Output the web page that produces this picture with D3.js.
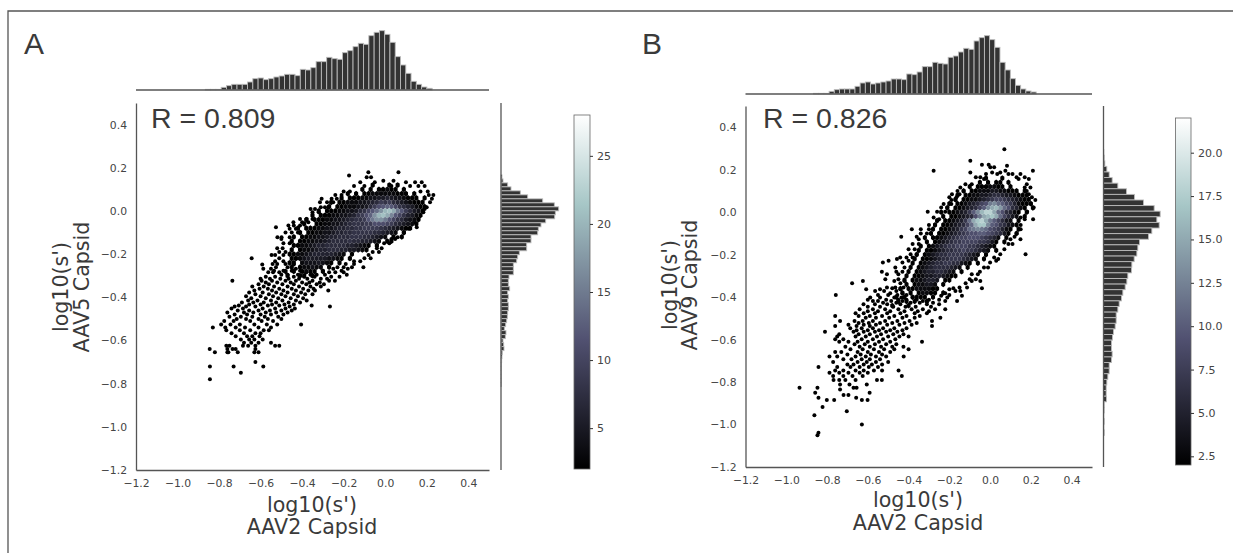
<!DOCTYPE html>
<html>
<head>
<meta charset="utf-8">
<script src="https://cdn.jsdelivr.net/npm/d3@7"></script>
<style>
  html, body { margin: 0; background: #fff; }
  svg { display: block; }
</style>
</head>
<body>
<div id="chart"></div>
<script>
// Marginal histogram heights (first bin on the left / top)
const topHistA = [2,2,2,8,13,17,17,17,24,34,36,31,34,39,42,47,47,43,62,60,67,85,85,98,94,92,112,118,130,140,137,163,173,178,167,143,100,75,50,26,17,9,5];
const topHistB = [2,2,2,8,13,15,15,15,23,33,36,30,33,36,39,45,45,43,60,58,66,82,82,95,92,90,110,114,126,137,134,159,169,175,163,140,95,72,46,26,15,9,6];
const rightHistA = [3,6,20,30,58,80,125,160,173,163,161,134,120,112,110,90,90,77,77,55,50,47,37,37,37,24,22,22,26,20,22,20,22,22,20,19,17,14,10,15,13,6,8,9,4,3,2,1,1,1,1,1,1];
const rightHistB = [1,2,4,10,17,26,43,69,93,120,152,170,160,167,145,135,108,103,100,92,85,84,73,70,65,58,54,47,43,38,38,35,30,27,24,24,26,24,17,17,13,10,8,8,9,2,2,1,2,1,2];

// Hexbin counts, one string per row. Each char is a count in base 36, "." is an empty cell
const hexRowYA = [0.12,0.10,0.08,0.06,0.04,0.02,0,-0.02,-0.04,-0.06,-0.08,-0.10,-0.12,-0.14,-0.16,-0.18,-0.20,-0.22,-0.24,-0.26,-0.28,-0.30];
const hexRowsA = [
  ".......................2...2.2",
  "....................2.2.22322.2",
  ".................2.2.22333333222.2",
  "...............2.22233445565443222.2",
  ".............2.223334456798976543222",
  "............2.2233344579bcdca8765322",
  "..........2.2223344578acehkljfc97542",
  "........2.22233445689bdhkljgca86532",
  ".......2.2223344567889cfhhfca875432",
  "......2..22334456788899bbba9765432",
  ".....2.22233445667788999987654322",
  ".....2.2233445667788888776543.2",
  "....2.223344566777888776543.2.2",
  "...2.22334456777787766543.22",
  "....2233456677777665432.2",
  "...2.23345667776655432",
  "...22334566666543.2",
  "...2234555554432.2",
  "...22.34445432.2",
  "...2.233433.2",
  "..2.2.2322.2",
  "..2..22.2"
];
const hexRowYB = [0.16,0.14,0.12,0.10,0.08,0.06,0.04,0.02,0,-0.02,-0.04,-0.06,-0.08,-0.10,-0.12,-0.14,-0.16,-0.18,-0.20,-0.22,-0.24,-0.26,-0.28,-0.30,-0.32,-0.34,-0.36,-0.38,-0.40,-0.42,-0.44];
const hexRowsB = [
  ".........................2...2",
  ".......................2.2.22.2",
  ".....................2.2223322.2",
  "...................2.223334433222.2",
  "..................2.2233445665443222",
  ".................2.22334567887654322",
  "................2.22345689cdba8753222",
  "...............2.2234568adfgeb96532.2",
  "..............2.223457adgiifb96532.2",
  "..............2.2234569cfghfb8643.2",
  ".............2.223457bfhifca8643.2",
  "............2.2234568bfhhda976432",
  "............2.2234578bcdcb987532.2",
  "...........2.2234567899aa987642.2",
  "..........2.22345678899987653.2",
  "..........2.2345677888877642.2",
  ".........2.23456778887765432",
  "........2.2234566778776543.2",
  "........2.23456677776543.2",
  ".......2.22345667776543.2",
  ".......2.2345667766432.2",
  "......2.23456666543.2",
  "......2.2345566543.2",
  ".....2.22344554322",
  ".....2.2334554.22",
  ".....2.233443.2",
  "....2.22333322",
  "....2.2.23322.2",
  "...2.2.2222.2",
  "...2.2.2..2",
  "..2...2"
];
const hexStartX = -0.52;
const hexStepX = 0.02;

// Single scatter dots outside the hex blob, grouped by row: [y, [x, x, ...]]
const dotRowsA = [
  [0.179,[-0.081,0.064]],[0.164,[-0.174]],[0.156,[-0.089,-0.068]],[0.14,[-0.009,0.04]],[0.133,[0.144,0.176,-0.05,0.1,-0.12]],
  [0.115,[-0.1,0.12,0.16,0.19,-0.15,0.03]],[0.09,[-0.2,0.17,0.205,-0.17]],[0.074,[0.232,0.21,-0.24,-0.21]],[0.056,[-0.233,-0.258,-0.306,0.225]],
  [0.04,[-0.314,0.216,-0.28,-0.25]],[0.017,[-0.274,0.2,-0.31,-0.29]],[0.009,[-0.338,-0.359,0.19]],[-0.006,[0.184,-0.35,-0.32]],
  [-0.037,[-0.41,-0.378,0.16,-0.35]],[-0.052,[-0.442,-0.4,0.14,-0.37]],[-0.068,[-0.466,-0.44,-0.41]],[-0.076,[-0.526,0.152]],[-0.083,[0.112,-0.46,-0.43]],
  [-0.1,[-0.48,-0.45,0.09,-0.42]],[-0.122,[-0.519,-0.499,0.06,-0.46]],[-0.13,[0.048,-0.5,0.03]],[-0.15,[-0.49,0.02,-0.46,-0.005]],[-0.173,[-0.494,-0.017,-0.52,-0.04]],
  [-0.19,[-0.51,-0.48,-0.06,-0.03]],[-0.204,[-0.547,-0.53,-0.08,-0.49]],[-0.219,[-0.643,-0.51,-0.1,-0.07]],[-0.233,[-0.53,-0.49,-0.12,-0.15]],
  [-0.246,[-0.542,-0.15,-0.52,-0.48,-0.19]],[-0.248,[-0.592,-0.44]],[-0.261,[-0.526,-0.105,-0.2,-0.47,-0.16,-0.23]],
  [-0.268,[-0.587,-0.55,-0.25,-0.43,-0.18]],[-0.277,[-0.535,-0.49,-0.45,-0.41,-0.3,-0.21]],[-0.284,[-0.563,-0.54,-0.51,-0.27,-0.24,-0.2,-0.38]],
  [-0.296,[-0.185,-0.5,-0.47,-0.42,-0.36,-0.33,-0.29]],
  [-0.305,[-0.575,-0.53,-0.44,-0.39,-0.34,-0.26,-0.22]],
  [-0.314,[-0.6,-0.555,-0.505,-0.465,-0.415,-0.375,-0.31,-0.28]],
  [-0.323,[-0.736,-0.595,-0.242,-0.545,-0.48,-0.43,-0.35,-0.27]],
  [-0.332,[-0.575,-0.52,-0.455,-0.4,-0.365,-0.315]],
  [-0.34,[-0.61,-0.56,-0.495,-0.44,-0.38,-0.33,-0.295]],
  [-0.35,[-0.64,-0.585,-0.535,-0.47,-0.415,-0.36,-0.31]],
  [-0.36,[-0.605,-0.565,-0.51,-0.45,-0.395,-0.345]],
  [-0.369,[-0.274,-0.338,-0.63,-0.545,-0.49,-0.43,-0.37]],
  [-0.378,[-0.655,-0.59,-0.525,-0.47,-0.405]],
  [-0.386,[-0.625,-0.56,-0.5,-0.44,-0.385,-0.35]],
  [-0.395,[-0.67,-0.6,-0.54,-0.48,-0.42]],
  [-0.404,[-0.645,-0.575,-0.515,-0.455,-0.395]],
  [-0.415,[-0.378,-0.66,-0.615,-0.55,-0.495,-0.43]],
  [-0.424,[-0.69,-0.635,-0.585,-0.525,-0.465,-0.41]],
  [-0.433,[-0.655,-0.6,-0.545,-0.485,-0.44]],
  [-0.438,[-0.354,-0.705,-0.565,-0.51]],
  [-0.443,[-0.266,-0.725,-0.67,-0.625,-0.46]],
  [-0.452,[-0.74,-0.685,-0.59,-0.53,-0.48,-0.435]],
  [-0.461,[-0.71,-0.655,-0.61,-0.555,-0.5,-0.45]],
  [-0.47,[-0.76,-0.68,-0.635,-0.575,-0.525,-0.47]],
  [-0.48,[-0.725,-0.665,-0.6,-0.55,-0.49]],
  [-0.49,[-0.75,-0.695,-0.64,-0.58,-0.515]],
  [-0.5,[-0.715,-0.67,-0.61,-0.565,-0.5]],
  [-0.51,[-0.775,-0.73,-0.65,-0.595,-0.54]],
  [-0.526,[-0.405,-0.79,-0.745,-0.7,-0.63,-0.57,-0.52]],
  [-0.54,[-0.83,-0.77,-0.72,-0.675,-0.61,-0.55]],
  [-0.553,[-0.765,-0.7,-0.65,-0.585,-0.56]],
  [-0.566,[-0.74,-0.68,-0.625,-0.6]],
  [-0.58,[-0.72,-0.665,-0.64,-0.605]],
  [-0.595,[-0.695,-0.655,-0.63,-0.59]],
  [-0.61,[-0.68,-0.645,-0.61,-0.55]],
  [-0.625,[-0.765,-0.75,-0.685,-0.66,-0.625,-0.53,-0.51]],
  [-0.64,[-0.845,-0.76,-0.735,-0.72,-0.625]],
  [-0.655,[-0.82,-0.76,-0.755,-0.71,-0.63,-0.61]],
  [-0.7,[-0.625]],[-0.72,[-0.844,-0.73,-0.587]],[-0.75,[-0.695]],[-0.78,[-0.844]]
];
const dotRowsB = [
  [0.296,[0.07]],[0.242,[-0.097]],[0.223,[-0.04,-0.007]],[0.219,[0.083]],[0.211,[0.001,0.02]],[0.195,[-0.277,0.21,0.075]],[0.187,[-0.097,0.05,0.01]],
  [0.18,[0.149,0.11,-0.02,0.035,0.09]],[0.164,[-0.048,0.17,-0.07,0.13]],[0.156,[0.19,0.14,-0.03]],[0.132,[-0.121,0.18,-0.09]],[0.116,[-0.146,0.198,0.17]],
  [0.1,[-0.16,-0.13,0.18]],[0.085,[-0.187,0.19,-0.15]],[0.07,[-0.2,-0.165,0.205]],[0.057,[0.222,-0.19,-0.17]],[0.038,[-0.228,0.2,-0.19]],[0.022,[0.214,-0.24,-0.21]],[0.002,[-0.306,-0.26,0.182,-0.22]],[-0.033,[0.211,0.17,-0.25]],
  [-0.025,[-0.277,0.15]],[-0.06,[-0.3,0.15,-0.27]],[-0.08,[-0.384,-0.34,0.15,-0.3]],[-0.1,[-0.34,0.13,-0.31]],[-0.116,[-0.436,-0.36,0.12]],[-0.127,[0.149,-0.35,0.1]],
  [-0.15,[-0.38,0.09,0.11,-0.35]],[-0.174,[-0.4,0.07,-0.37]],[-0.198,[0.174,-0.39,0.05,-0.36]],[-0.214,[-0.441,-0.41,0.02,-0.38]],[-0.22,[-0.457,0.04]],[-0.229,[-0.498,0.03,-0.4]],
  [-0.237,[-0.526,0.0,-0.43]],[-0.26,[-0.465,-0.03,-0.42,-0.01]],[-0.28,[-0.531,-0.46,-0.05,-0.43]],[-0.292,[-0.506,-0.06,-0.45,-0.09]],[-0.316,[-0.514,-0.45,-0.07,-0.1]],
  [-0.324,[-0.624,-0.048,-0.47,-0.09,-0.42]],[-0.335,[-0.677,-0.12,-0.44]],[-0.355,[-0.506,-0.113,-0.465,-0.15,-0.425]],[-0.358,[-0.04,-0.48,-0.18]],
  [-0.363,[-0.608,-0.54,-0.44,-0.2]],[-0.371,[-0.564,-0.146,-0.52,-0.46,-0.17]],[-0.382,[-0.49,-0.43,-0.22]],[-0.39,[-0.757,-0.55,-0.5,-0.2,-0.455,-0.41]],[-0.394,[-0.138,-0.24]],[-0.402,[-0.588,-0.54,-0.21,-0.47,-0.435,-0.38]],
  [-0.412,[-0.6,-0.51,-0.45,-0.41,-0.36,-0.25,-0.3]],
  [-0.418,[-0.162,-0.575,-0.55,-0.485,-0.43,-0.22,-0.33]],[-0.426,[-0.525,-0.46,-0.39,-0.345,-0.28]],[-0.434,[-0.621,-0.565,-0.505,-0.44,-0.25,-0.31]],
  [-0.445,[-0.6,-0.54,-0.475,-0.415,-0.365,-0.29]],[-0.457,[-0.22,-0.64,-0.575,-0.515,-0.45,-0.385,-0.33,-0.27]],
  [-0.466,[-0.6,-0.55,-0.49,-0.42,-0.355,-0.3]],
  [-0.476,[-0.66,-0.62,-0.565,-0.505,-0.44,-0.37,-0.31]],
  [-0.489,[-0.76,-0.645,-0.59,-0.53,-0.47,-0.41,-0.345]],
  [-0.497,[-0.244,-0.61,-0.56,-0.495,-0.43,-0.37]],
  [-0.512,[-0.736,-0.665,-0.625,-0.575,-0.515,-0.455,-0.395,-0.285]],
  [-0.522,[-0.645,-0.595,-0.54,-0.48,-0.42,-0.36]],
  [-0.53,[-0.695,-0.62,-0.56,-0.505,-0.445,-0.385]],
  [-0.536,[-0.76,-0.285,-0.655,-0.59]],
  [-0.547,[-0.686,-0.63,-0.575,-0.525,-0.47,-0.41]],
  [-0.556,[-0.655,-0.6,-0.545,-0.49,-0.43]],
  [-0.563,[-0.81,-0.67,-0.62,-0.565,-0.51,-0.455]],
  [-0.575,[-0.74,-0.645,-0.59,-0.535,-0.475,-0.425]],
  [-0.586,[-0.75,-0.66,-0.61,-0.555,-0.5,-0.445,-0.4]],
  [-0.598,[-0.76,-0.72,-0.63,-0.575,-0.525,-0.465]],
  [-0.61,[-0.334,-0.74,-0.695,-0.65,-0.6,-0.545,-0.49]],
  [-0.622,[-0.665,-0.615,-0.565,-0.51,-0.46]],
  [-0.634,[-0.71,-0.64,-0.59,-0.535,-0.48,-0.425]],
  [-0.646,[-0.4,-0.685,-0.625,-0.57,-0.52,-0.47]],
  [-0.658,[-0.76,-0.73,-0.65,-0.6,-0.545,-0.49]],
  [-0.67,[-0.7,-0.635,-0.585,-0.53]],
  [-0.68,[-0.788,-0.75,-0.66,-0.61,-0.56,-0.51,-0.424]],
  [-0.693,[-0.72,-0.68,-0.63,-0.59,-0.54]],
  [-0.705,[-0.77,-0.65,-0.605,-0.56,-0.5]],
  [-0.717,[-0.7,-0.67,-0.62,-0.58,-0.53]],
  [-0.729,[-0.842,-0.75,-0.685,-0.64,-0.595,-0.55]],
  [-0.745,[-0.449,-0.76,-0.72,-0.66,-0.62,-0.57,-0.53]],
  [-0.756,[-0.788,-0.74,-0.695,-0.64,-0.6]],
  [-0.772,[-0.433,-0.77,-0.72,-0.675,-0.625]],
  [-0.79,[-0.768,-0.74,-0.71,-0.66,-0.555,-0.531]],
  [-0.811,[-0.736,-0.69,-0.605]],[-0.827,[-0.847,-0.935,-0.67,-0.655]],[-0.835,[-0.736]],[-0.85,[-0.858,-0.591]],
  [-0.861,[-0.719,-0.695]],[-0.874,[-0.842,-0.657]],[-0.885,[-0.801,-0.765,-0.629,-0.601]],[-0.918,[-0.822]],[-0.937,[-0.703]],
  [-0.956,[-0.862]],[-1.0,[-0.629]],[-1.039,[-0.842]],[-1.05,[-0.847]]
];

const axisTicks = [-1.2,-1.0,-0.8,-0.6,-0.4,-0.2,0.0,0.2,0.4];
const cbarTicksA = [5,10,15,20,25];
const cbarTicksB = [2.5,5,7.5,10,12.5,15,17.5,20];
// matplotlib "bone" colormap stops
const boneStops = [0,0.365,0.746,1];
const boneColors = ["#000000","#515171","#a6c6c6","#ffffff"];

const width = 1233;
const height = 553;
const spineColor = "#555";
const textColor = "#3a3a3a";
const labelFont = "'DejaVu Sans', sans-serif";
const titleFont = "'Liberation Sans', Arial, sans-serif";
const histBinX = 0.0254;
const histStartX = -0.866;

const svg = d3.select("#chart").append("svg")
    .attr("width", width)
    .attr("height", height);

// Frame around the figure
svg.append("path")
    .attr("d", `M8,${height}V11H${width}`)
    .attr("fill", "none")
    .attr("stroke", spineColor)
    .attr("stroke-width", 1.3);

const bone = d3.scaleLinear().domain(boneStops).range(boneColors);

function drawPanel(p) {
    const g = svg.append("g");

    const x = d3.scaleLinear().domain([-1.2, 0.5]).range([p.left, p.right]);
    const y = d3.scaleLinear().domain([-1.2, 0.5]).range([p.bottom, p.top]);
    const color = d3.scaleLinear().domain(p.cbarDomain).range([0, 1]);

    // Scatter dots sit under the hexes
    const dots = p.dotRows.flatMap(([dy, xs]) => xs.map(dx => [dx, dy]));
    g.append("g").selectAll("circle")
        .data(dots)
        .join("circle")
        .attr("cx", d => x(d[0]))
        .attr("cy", d => y(d[1]))
        .attr("r", 2)
        .attr("fill", "#000");

    // Hexbin cells, odd rows are shifted half a cell
    const cells = [];
    p.hexRows.forEach((row, r) => {
        row.split("").forEach((c, i) => {
            if (c !== ".") {
                cells.push({
                    cx: hexStartX + hexStepX * (i + (r % 2 ? 0.5 : 0)),
                    cy: p.hexRowY[r],
                    count: parseInt(c, 36)
                });
            }
        });
    });
    const halfW = (x(hexStepX) - x(0)) / 2;
    const halfH = (y(0) - y(0.02)) * 2 / 3;
    const hexPath = d3.line();
    g.append("g").selectAll("path")
        .data(cells)
        .join("path")
        .attr("d", d => {
            const px = x(d.cx), py = y(d.cy);
            return hexPath([[px, py - halfH], [px + halfW, py - halfH / 2], [px + halfW, py + halfH / 2],
                [px, py + halfH], [px - halfW, py + halfH / 2], [px - halfW, py - halfH / 2]]) + "Z";
        })
        .attr("fill", d => bone(color(d.count)));

    // Top marginal histogram
    const hTop = d3.scaleLinear().domain([0, 180]).range([p.topBase, p.topBase - 60]);
    g.append("g").selectAll("rect")
        .data(p.topHist)
        .join("rect")
        .attr("x", (d, i) => x(histStartX + histBinX * i))
        .attr("width", x(histBinX) - x(0))
        .attr("y", d => hTop(d))
        .attr("height", d => p.topBase - hTop(d))
        .attr("fill", "#333")
        .attr("stroke", "#bbb")
        .attr("stroke-width", 0.9);
    g.append("line")
        .attr("x1", p.left).attr("x2", p.right)
        .attr("y1", p.topBase).attr("y2", p.topBase)
        .attr("stroke", spineColor).attr("stroke-width", 1.3);

    // Right marginal histogram
    const hRight = d3.scaleLinear().domain([0, 180]).range([p.rightBase, p.rightBase + 60]);
    g.append("g").selectAll("rect")
        .data(p.rightHist)
        .join("rect")
        .attr("x", p.rightBase)
        .attr("width", d => hRight(d) - p.rightBase)
        .attr("y", (d, i) => y(p.rightStart - p.rightBin * i))
        .attr("height", y(0) - y(p.rightBin))
        .attr("fill", "#333")
        .attr("stroke", "#bbb")
        .attr("stroke-width", 0.9);
    g.append("line")
        .attr("x1", p.rightBase).attr("x2", p.rightBase)
        .attr("y1", p.top).attr("y2", p.bottom)
        .attr("stroke", spineColor).attr("stroke-width", 1.3);

    // Main axes: spines on left and bottom only, no tick marks
    const xAxis = g.append("g")
        .attr("transform", `translate(0,${p.bottom})`)
        .call(d3.axisBottom(x).tickValues(axisTicks).tickFormat(d3.format(".1f")).tickSize(0).tickPadding(9));
    const yAxis = g.append("g")
        .attr("transform", `translate(${p.left},0)`)
        .call(d3.axisLeft(y).tickValues(axisTicks).tickFormat(d3.format(".1f")).tickSize(0).tickPadding(9));
    [xAxis, yAxis].forEach(axis => {
        axis.select(".domain").attr("stroke", spineColor).attr("stroke-width", 1.3);
        axis.selectAll(".tick text")
            .attr("fill", "#444")
            .style("font", `10.8px ${labelFont}`);
    });

    // Colorbar
    const cbar = d3.scaleLinear().domain(p.cbarDomain).range([p.cbarBottom, p.cbarTop]);
    const gradId = `bone-${p.letter}`;
    const grad = svg.append("defs").append("linearGradient")
        .attr("id", gradId)
        .attr("x1", 0).attr("x2", 0).attr("y1", 1).attr("y2", 0);
    boneStops.forEach((s, i) => {
        grad.append("stop").attr("offset", s).attr("stop-color", boneColors[i]);
    });
    g.append("rect")
        .attr("x", p.cbarLeft)
        .attr("y", p.cbarTop)
        .attr("width", p.cbarWidth)
        .attr("height", p.cbarBottom - p.cbarTop)
        .attr("fill", `url(#${gradId})`)
        .attr("stroke", "#666")
        .attr("stroke-width", 0.8);
    const cAxis = g.append("g")
        .attr("transform", `translate(${p.cbarLeft + p.cbarWidth},0)`)
        .call(d3.axisRight(cbar).tickValues(p.cbarTicks).tickFormat(p.cbarFormat).tickSize(3).tickPadding(4));
    cAxis.select(".domain").remove();
    cAxis.selectAll(".tick line").attr("stroke", "#333");
    cAxis.selectAll(".tick text")
        .attr("fill", "#444")
        .style("font", `11px ${labelFont}`);

    // Labels
    const addLabel = (txt, tx, ty, font, size, rotate) => g.append("text")
        .attr("transform", `translate(${tx},${ty})` + (rotate ? " rotate(-90)" : ""))
        .attr("text-anchor", font === labelFont ? "middle" : "start")
        .attr("fill", textColor)
        .style("font", `${size}px ${font}`)
        .text(txt);
    addLabel("log10(s')", p.xLabelX, p.xLabelY1, labelFont, 20.6);
    addLabel("AAV2 Capsid", p.xLabelX, p.xLabelY2, labelFont, 20.6);
    addLabel("log10(s')", p.yLabelX1, p.yLabelY, labelFont, 20.6, true);
    addLabel(p.yName, p.yLabelX2, p.yLabelY, labelFont, 20.6, true);
    addLabel(p.rText, p.rX, p.rY, titleFont, 28.5);
    addLabel(p.letter, p.letterX, p.letterY, titleFont, 30);
}

drawPanel({
    letter: "A", letterX: 24, letterY: 54,
    rText: "R = 0.809", rX: 151, rY: 128,
    yName: "AAV5 Capsid",
    left: 136, right: 489, top: 103, bottom: 470,
    topBase: 90, rightBase: 501,
    rightStart: 0.167, rightBin: 0.0185,
    topHist: topHistA, rightHist: rightHistA,
    hexRows: hexRowsA, hexRowY: hexRowYA, dotRows: dotRowsA,
    cbarDomain: [2, 28], cbarTicks: cbarTicksA, cbarFormat: d3.format("d"),
    cbarLeft: 574, cbarWidth: 16, cbarTop: 115, cbarBottom: 469,
    xLabelX: 312, xLabelY1: 512, xLabelY2: 534,
    yLabelX1: 68, yLabelX2: 89, yLabelY: 287
});

drawPanel({
    letter: "B", letterX: 642, letterY: 54,
    rText: "R = 0.826", rX: 763, rY: 128,
    yName: "AAV9 Capsid",
    left: 745.5, right: 1092, top: 106, bottom: 467,
    topBase: 94, rightBase: 1103.5,
    rightStart: 0.295, rightBin: 0.0264,
    topHist: topHistB, rightHist: rightHistB,
    hexRows: hexRowsB, hexRowY: hexRowYB, dotRows: dotRowsB,
    cbarDomain: [2, 22], cbarTicks: cbarTicksB, cbarFormat: d3.format(".1f"),
    cbarLeft: 1175.5, cbarWidth: 15.5, cbarTop: 118, cbarBottom: 465,
    xLabelX: 918, xLabelY1: 507, xLabelY2: 530,
    yLabelX1: 677, yLabelX2: 697, yLabelY: 285
});
</script>
</body>
</html>
